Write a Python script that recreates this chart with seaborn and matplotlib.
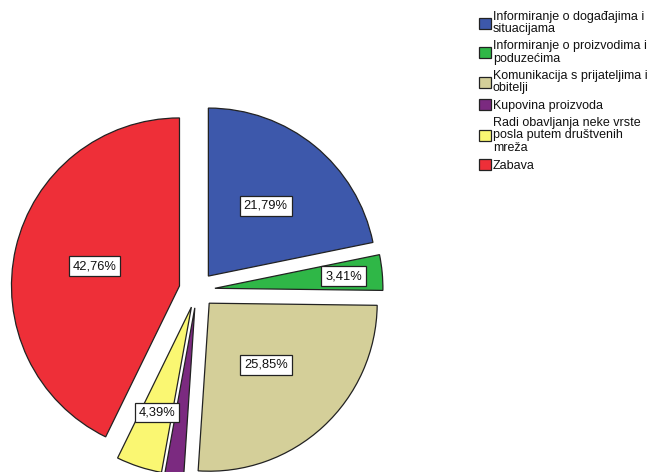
import matplotlib
matplotlib.use("Agg")
import matplotlib.pyplot as plt
import numpy as np
import seaborn as sns

sns.set_theme(style="white")
plt.rcParams['font.family'] = ['Liberation Sans', 'DejaVu Sans']

# categories as shown in the legend (line breaks as in the original)
categories = [
    "Informiranje o događajima i\nsituacijama",
    "Informiranje o proizvodima i\npoduzećima",
    "Komunikacija s prijateljima i\nobitelji",
    "Kupovina proizvoda",
    "Radi obavljanja neke vrste\nposla putem društvenih\nmreža",
    "Zabava",
]
percents = [21.79, 3.41, 25.85, 1.80, 4.39, 42.76]
colors = ["#3D58AB", "#2FB747", "#D4CF99", "#7B2A80", "#FAF772", "#EE2F38"]

# how far from the slice tip each label sits (fraction of radius), None = no label
label_dist = [0.54, 0.77, 0.50, None, 0.66, 0.52]

fig = plt.figure(figsize=(6.58, 4.72), dpi=100)
ax = fig.add_axes([0, 0, 1, 1])

wedges, _ = ax.pie(percents, colors=colors, startangle=90, counterclock=False,
                   explode=[0.107] * len(percents), radius=1,
                   wedgeprops=dict(edgecolor="#222222", linewidth=0.9))

# pie centre at pixel (197, 290), radius 168 px
ax.set_xlim(-197 / 168, 461 / 168)
ax.set_ylim(-182 / 168, 290 / 168)
ax.set_aspect("equal")
ax.axis("off")

for w, v, d in zip(wedges, percents, label_dist):
    if d is None:
        continue
    ang = np.deg2rad((w.theta1 + w.theta2) / 2)
    cx, cy = w.center
    ax.text(cx + d * np.cos(ang), cy + d * np.sin(ang),
            f"{v:.2f}%".replace(".", ","), ha="center", va="center",
            fontsize=9.3, color="#111111",
            bbox=dict(boxstyle="square,pad=0.3", fc="white", ec="#222222", lw=0.9))

leg = fig.legend(wedges, categories, loc="upper left",
                 bbox_to_anchor=(479 / 658, 1 - 11 / 472),
                 frameon=False, fontsize=9, labelspacing=0.4,
                 handlelength=0.95, handleheight=0.95, handletextpad=0.15,
                 borderpad=0, borderaxespad=0)
for t in leg.get_texts():
    t.set_linespacing(1.05)
    t.set_color("#111111")

fig.savefig("out.png", dpi=100)
